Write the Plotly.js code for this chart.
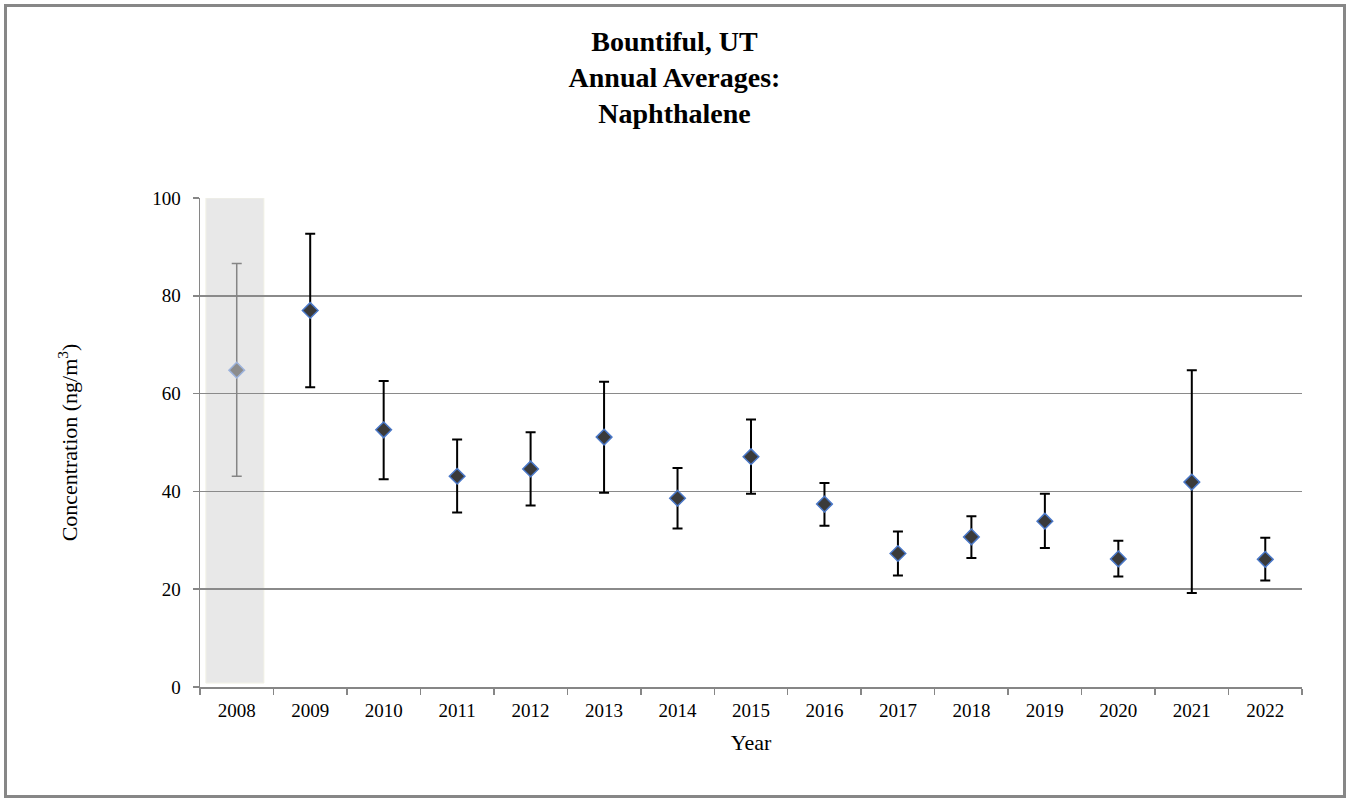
<!DOCTYPE html>
<html>
<head>
<meta charset="utf-8">
<script src="https://cdn.plot.ly/plotly-3.0.1.min.js"></script>
<style>
  html, body { margin: 0; padding: 0; background: #fff; }
  #wrap { position: relative; width: 1349px; height: 802px; }
  #chart { width: 1349px; height: 802px; }
  #frame { position: absolute; left: 4px; top: 4px; width: 1336px; height: 788px;
           border: 3px solid #878787; pointer-events: none; }
</style>
</head>
<body>
<div id="wrap">
  <div id="chart"></div>
  <div id="frame"></div>
</div>
<script>
// ---- data ----
const years = ['2008','2009','2010','2011','2012','2013','2014','2015','2016','2017','2018','2019','2020','2021','2022'];
const means = [64.8, 77.0, 52.6, 43.1, 44.6, 51.1, 38.6, 47.1, 37.4, 27.3, 30.7, 33.9, 26.2, 41.9, 26.1];
const upper = [86.6, 92.7, 62.6, 50.6, 52.1, 62.4, 44.8, 54.7, 41.7, 31.8, 34.9, 39.5, 29.9, 64.8, 30.5];
const lower = [43.1, 61.3, 42.5, 35.7, 37.1, 39.7, 32.4, 39.5, 33.0, 22.8, 26.4, 28.4, 22.6, 19.2, 21.8];
const shadedYears = ['2008'];

const plus = upper.map((u, i) => u - means[i]);
const minus = lower.map((l, i) => means[i] - l);

const serif = '"Liberation Serif", "Times New Roman", serif';

const shadedIdx = years.map((y, i) => shadedYears.includes(y) ? i : -1).filter(i => i >= 0);
const mainIdx = years.map((y, i) => shadedYears.includes(y) ? -1 : i).filter(i => i >= 0);
const pick = (arr, idx) => idx.map(i => arr[i]);

const traceShaded = {
  type: 'scatter', mode: 'markers',
  x: pick(years, shadedIdx), y: pick(means, shadedIdx),
  marker: { symbol: 'diamond', size: 12, color: '#8c8c8c', line: { color: '#9db3dc', width: 1.5 } },
  error_y: { type: 'data', symmetric: false, array: pick(plus, shadedIdx), arrayminus: pick(minus, shadedIdx),
             color: '#858585', thickness: 1.5, width: 5 },
  hoverinfo: 'skip', showlegend: false
};
const traceMain = {
  type: 'scatter', mode: 'markers',
  x: pick(years, mainIdx), y: pick(means, mainIdx),
  marker: { symbol: 'diamond', size: 12, color: '#3a3a3a', line: { color: '#4a78c8', width: 1.5 } },
  error_y: { type: 'data', symmetric: false, array: pick(plus, mainIdx), arrayminus: pick(minus, mainIdx),
             color: '#000000', thickness: 2, width: 5 },
  hoverinfo: 'skip', showlegend: false
};

const shapes = shadedIdx.map(i => ({
  type: 'rect', xref: 'x', yref: 'y', layer: 'below',
  x0: i - 0.42, x1: i + 0.37, y0: 0.8, y1: 100,
  fillcolor: '#e8e8e8', line: { color: '#f2f2e6', width: 1 }
}));

const layout = {
  width: 1349, height: 802,
  paper_bgcolor: '#ffffff', plot_bgcolor: 'rgba(0,0,0,0)',
  margin: { l: 200, r: 47, t: 198, b: 115 },
  font: { family: serif, color: '#000', size: 19 },
  title: {
    text: '<b>Bountiful, UT</b><br><b>Annual Averages:</b><br><b>Naphthalene</b>',
    font: { family: serif, size: 28, color: '#000' },
    x: 0.5, xanchor: 'center', xref: 'container', y: 0.937, yanchor: 'middle', yref: 'container'
  },
  xaxis: {
    type: 'category', categoryorder: 'array', categoryarray: years,
    range: [-0.5, years.length - 0.5],
    title: { text: 'Year', font: { family: serif, size: 22 }, standoff: 14 },
    tickfont: { family: serif, size: 19 },
    ticklabelstandoff: 6,
    showline: true, linecolor: '#868686', linewidth: 1.5,
    ticks: 'outside', tickson: 'boundaries', ticklen: 6, tickcolor: '#868686', tickwidth: 1.5,
    showgrid: false, zeroline: false, fixedrange: true
  },
  yaxis: {
    range: [0, 100], dtick: 20, tick0: 0,
    title: { text: 'Concentration (ng/m<sup>3</sup>)', font: { family: serif, size: 22 }, standoff: 68 },
    tickfont: { family: serif, size: 19 },
    ticklabelstandoff: 8,
    showline: true, linecolor: '#868686', linewidth: 1.5,
    ticks: 'outside', ticklen: 6, tickcolor: '#868686', tickwidth: 1.5,
    showgrid: true, gridcolor: '#8a8a8a', gridwidth: 1.5,
    zeroline: false, fixedrange: true
  },
  shapes: shapes,
  showlegend: false,
  hovermode: false
};

Plotly.newPlot('chart', [traceShaded, traceMain], layout, { displayModeBar: false, staticPlot: true });
</script>
</body>
</html>
